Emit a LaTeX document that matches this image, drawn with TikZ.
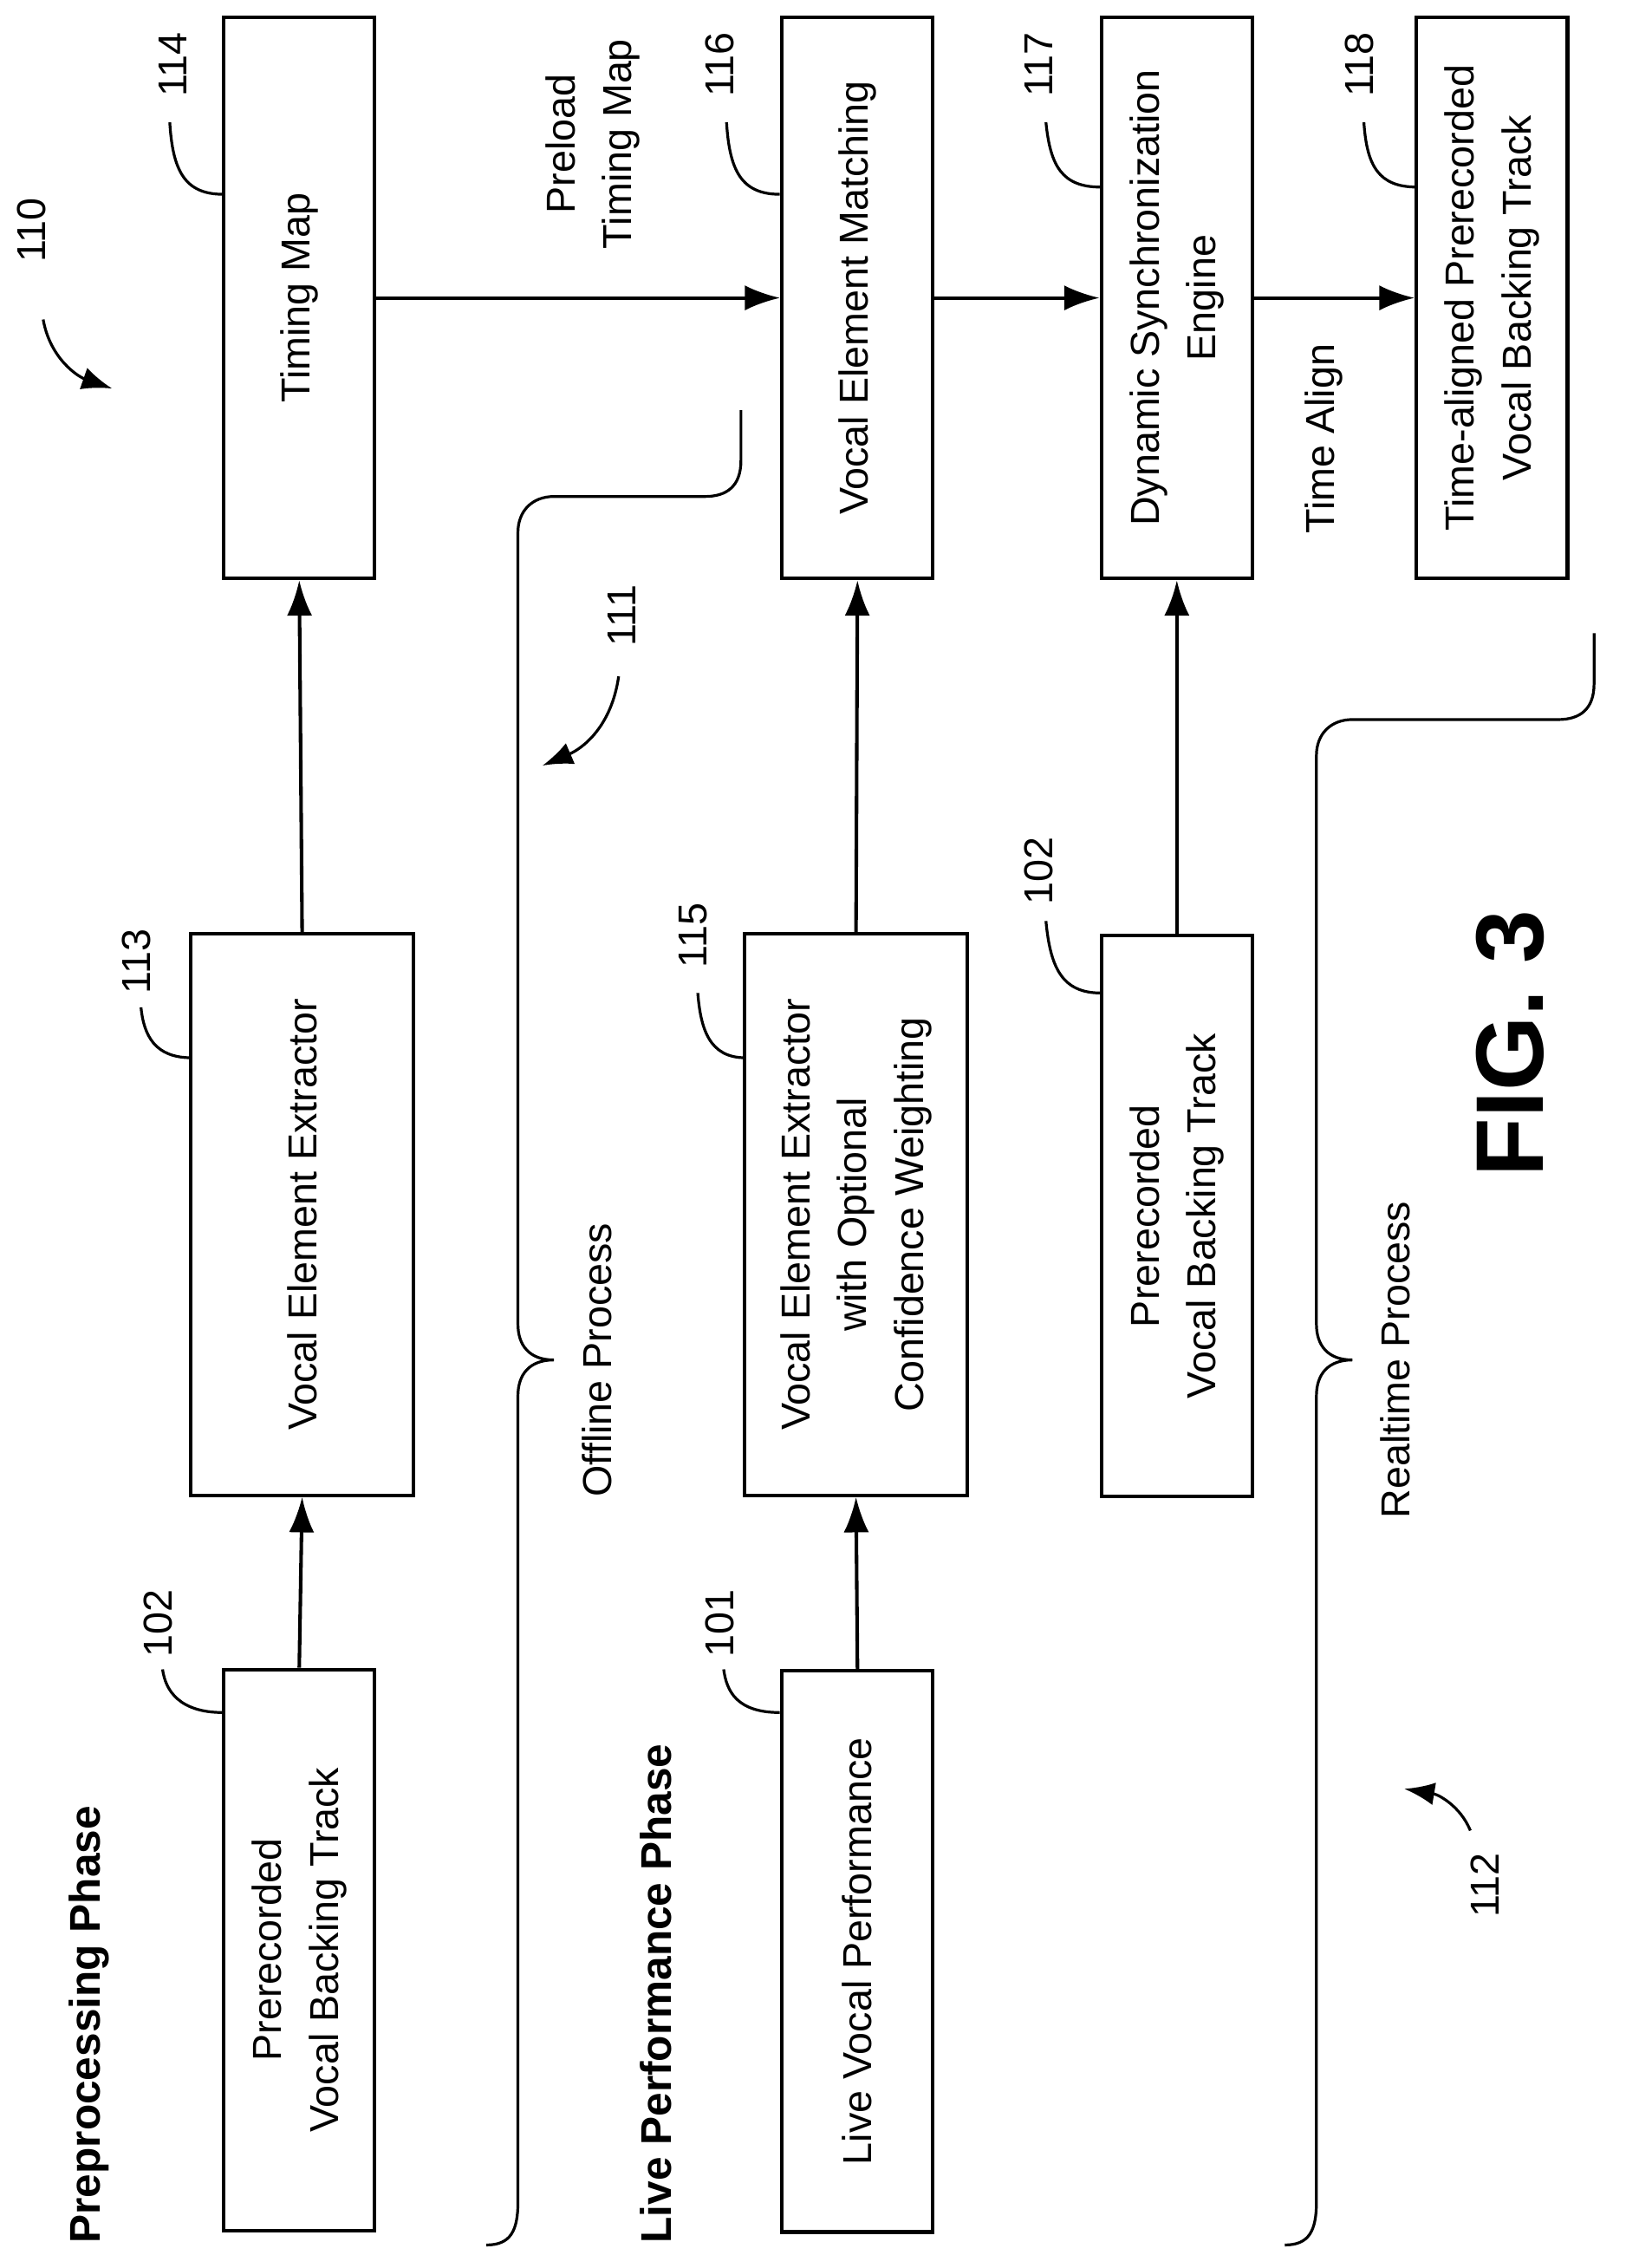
\documentclass[tikz,border=0pt]{standalone}
\usepackage{fontspec}
\setmainfont{Liberation Sans}
\usetikzlibrary{arrows.meta}
\tikzset{
  box/.style={draw, line width=1.4pt, rotate=90, minimum width=7.8cm, minimum height=2.1cm,
    align=center, font=\fontsize{16}{22.5}\selectfont},
  num/.style={rotate=90, font=\fontsize{16}{20}\selectfont},
  flow/.style={line width=1.4pt, -{Latex[length=14pt,width=10pt]}},
  lead/.style={line width=1.1pt},
}
\begin{document}
\begin{tikzpicture}[x=0.02cm,y=-0.02cm]
\useasboundingbox (0,0) rectangle (1130,1576);

% phase titles
\node[rotate=90, font=\fontsize{17}{22}\selectfont\bfseries, anchor=west] (pre) at (62,1565) {Preprocessing Phase};
\node[rotate=90, font=\fontsize{17}{22}\selectfont\bfseries, anchor=west] (live) at (456,1565) {Live Performance Phase};

% boxes
\node[box] (trackA) at (208,1355) {Prerecorded\\Vocal Backing Track};
\node[box, minimum height=3.1cm] (extA) at (210,844) {Vocal Element Extractor};
\node[box] (map) at (208,207) {Timing Map};
\node[box] (perf) at (596,1356) {Live Vocal Performance};
\node[box, minimum height=3.1cm] (extB) at (595,844) {Vocal Element Extractor\\with Optional\\Confidence Weighting};
\node[box] (match) at (596,207) {Vocal Element Matching};
\node[box] (trackB) at (818,845) {Prerecorded\\Vocal Backing Track};
\node[box] (sync) at (818,207) {Dynamic Synchronization\\Engine};
\node[box] (aligned) at (1037,207) {Time-aligned Prerecorded\\Vocal Backing Track};

% connectors
\draw[flow] (trackA.east) -- (extA.west);
\draw[flow] (extA.east) -- (map.west);
\draw[flow] (perf.east) -- (extB.west);
\draw[flow] (extB.east) -- (match.west);
\draw[flow] (trackB.east) -- (sync.west);
\draw[flow] (map.south) -- (match.north);
\draw[flow] (match.south) -- (sync.north);
\draw[flow] (sync.south) -- (aligned.north);
\node[rotate=90, align=center, font=\fontsize{16}{22.5}\selectfont] (preload) at (412,100) {Preload\\Timing Map};
\node[rotate=90, font=\fontsize{16}{20}\selectfont] (talign) at (920,305) {Time Align};

% reference numbers
\node[num] (n102a) at (110,1128) {102};
\draw[lead] (155,1190) .. controls (125,1190) and (115,1175) .. (113,1160);
\node[num] (n113) at (95,668) {113};
\draw[lead] (133,735) .. controls (108,735) and (100,720) .. (98,700);
\node[num] (n114) at (120,45) {114};
\draw[lead] (155,135) .. controls (128,135) and (120,118) .. (118,85);
\node[num] (n101) at (500,1128) {101};
\draw[lead] (542,1190) .. controls (512,1190) and (505,1175) .. (503,1160);
\node[num] (n115) at (482,650) {115};
\draw[lead] (518,735) .. controls (493,735) and (487,715) .. (485,690);
\node[num] (n116) at (500,45) {116};
\draw[lead] (542,135) .. controls (515,135) and (507,118) .. (505,85);
\node[num] (n102b) at (722,605) {102};
\draw[lead] (765,690) .. controls (738,690) and (730,672) .. (727,640);
\node[num] (n117) at (722,45) {117};
\draw[lead] (765,130) .. controls (738,130) and (730,115) .. (727,85);
\node[num] (n118) at (945,45) {118};
\draw[lead] (985,130) .. controls (958,130) and (950,115) .. (948,85);

% group arrows
\node[num] (n110) at (22,160) {110};
\draw[lead, -{Latex[length=12pt,width=9pt]}] (30,222) .. controls (35,250) and (55,262) .. (78,270);
\node[num] (n111) at (432,428) {111};
\draw[lead, -{Latex[length=12pt,width=9pt]}] (430,470) .. controls (425,505) and (405,520) .. (377,532);
\node[num] (n112) at (1032,1310) {112};
\draw[lead, -{Latex[length=12pt,width=9pt]}] (1022,1272) .. controls (1015,1255) and (1000,1247) .. (976,1243);

% braces
\draw[lead] (515,285) -- (515,320) .. controls (515,338) and (505,345) .. (490,345) -- (385,345)
  .. controls (370,345) and (360,355) .. (360,370) -- (360,920)
  .. controls (360,935) and (368,945) .. (385,945) .. controls (368,945) and (360,955) .. (360,970)
  -- (360,1530) .. controls (360,1550) and (355,1560) .. (338,1560);
\node[rotate=90, font=\fontsize{16}{20}\selectfont] (offline) at (415,945) {Offline Process};
\draw[lead] (1108,440) -- (1108,475) .. controls (1108,493) and (1098,500) .. (1083,500) -- (940,500)
  .. controls (925,500) and (915,510) .. (915,525) -- (915,920)
  .. controls (915,935) and (923,945) .. (940,945) .. controls (923,945) and (915,955) .. (915,970)
  -- (915,1530) .. controls (915,1550) and (910,1560) .. (893,1560);
\node[rotate=90, font=\fontsize{16}{20}\selectfont] (realtime) at (970,945) {Realtime Process};

% figure label
\node[rotate=90, font=\fontsize{38}{44}\selectfont\bfseries] (fig) at (1050,725) {FIG. 3};
\end{tikzpicture}
\end{document}
